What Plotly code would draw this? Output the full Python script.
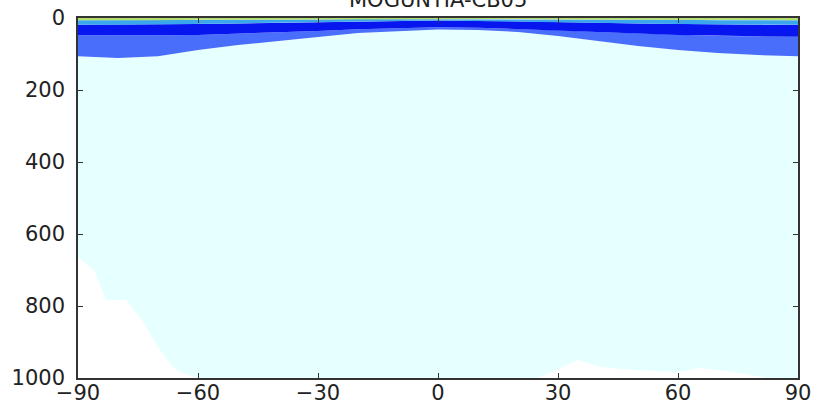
import plotly.graph_objects as go

# Latitude grid for the stratified layers
lat = [-90, -80, -70, -60, -50, -40, -30, -20, -10, 0, 10, 20, 30, 40, 50, 60, 70, 80, 90]

# Pressure (hPa) of the bottom of each coloured layer
top_layer = [0] * len(lat)
yellow_bottom = [6, 6, 6, 5, 5, 4, 4, 3, 3, 3, 3, 3, 4, 4, 5, 5, 6, 6, 6]
lightblue_bottom = [19, 19, 18, 17, 15, 13, 11, 9, 8, 7, 8, 9, 11, 13, 15, 17, 18, 19, 19]
darkblue_bottom = [48, 49, 48, 47, 44, 40, 36, 31, 28, 26, 27, 30, 34, 39, 43, 47, 50, 51, 52]
midblue_bottom = [106, 111, 106, 89, 75, 64, 53, 42, 36, 32, 33, 39, 50, 64, 78, 89, 97, 103, 106]

# Lower edge of the pale (surface) region
lat_sfc = [-90, -86, -83, -78, -74, -69.5, -66, -64.5, -60, 25, 28, 35, 40.5, 48.75, 60, 65.5, 74, 82, 90]
p_sfc = [665, 700, 783, 783, 839, 922, 972, 983, 1000, 1000, 986, 950, 969, 978, 983, 972, 983, 1000, 1000]

layer_colors = ["#b4dc6c", "#3aa6ee", "#0716ee", "#4a6efc", "#e6ffff"]

fig = go.Figure()

def band(x_up, y_up, x_lo, y_lo, color):
    fig.add_trace(go.Scatter(
        x=list(x_up) + list(x_lo)[::-1],
        y=list(y_up) + list(y_lo)[::-1],
        fill="toself", fillcolor=color, mode="lines",
        line=dict(width=0, color=color), hoverinfo="skip", showlegend=False))

band(lat, midblue_bottom, lat_sfc, p_sfc, layer_colors[4])
band(lat, darkblue_bottom, lat, midblue_bottom, layer_colors[3])
band(lat, lightblue_bottom, lat, darkblue_bottom, layer_colors[2])
band(lat, yellow_bottom, lat, lightblue_bottom, layer_colors[1])
band(lat, top_layer, lat, yellow_bottom, layer_colors[0])

axis_common = dict(
    showgrid=False, zeroline=False, showline=True, linecolor="#333333", linewidth=1.5,
    mirror="ticks", ticks="inside", ticklen=5, tickcolor="#333333", tickwidth=1,
    tickfont=dict(family="DejaVu Sans", size=21, color="#222222"), automargin=False,
)

fig.update_layout(
    width=813, height=408,
    margin=dict(l=78, r=15, t=18, b=30),
    paper_bgcolor="white", plot_bgcolor="white",
    xaxis=dict(range=[-90, 90], tickvals=[-90, -60, -30, 0, 30, 60, 90],
               ticktext=["\u221290", "\u221260", "\u221230", "0", "30", "60", "90"],
               ticklabelstandoff=-5, **axis_common),
    yaxis=dict(range=[1000, 0], tickvals=[0, 200, 400, 600, 800, 1000],
               ticklabelstandoff=7, **axis_common),
    annotations=[dict(text="MOGUNTIA-CB05", xref="paper", yref="paper", x=0.5, y=1.0,
                      yshift=18, xanchor="center", yanchor="middle", showarrow=False,
                      font=dict(family="DejaVu Sans", size=21, color="#222222"))],
)

fig.write_html("out.html", config={"displayModeBar": False},
               post_script="document.body.style.margin='0px';")
